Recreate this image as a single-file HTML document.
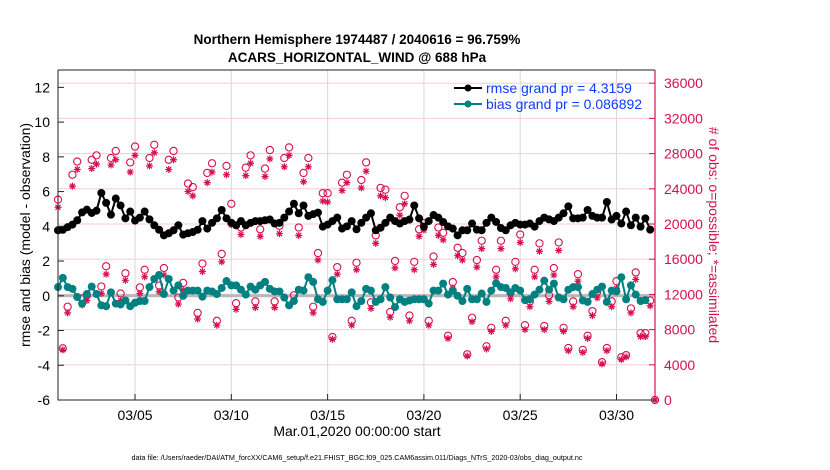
<!DOCTYPE html>
<html><head><meta charset="utf-8">
<style>
html,body{margin:0;padding:0;background:#fff;}
svg{display:block;font-family:"Liberation Sans",sans-serif;}
</style></head>
<body>
<svg id="chart" width="830" height="470" viewBox="0 0 830 470" xmlns="http://www.w3.org/2000/svg">
<text x="357" y="44" text-anchor="middle" font-size="13.5" font-weight="bold">Northern Hemisphere 1974487 / 2040616 = 96.759%</text>
<text x="357" y="62" text-anchor="middle" font-size="13.5" font-weight="bold">ACARS_HORIZONTAL_WIND @ 688 hPa</text>
<g id="grid"></g>
<g id="marks"></g>
<g id="axes"></g>
<text transform="translate(30,235) rotate(-90)" text-anchor="middle" font-size="14">rmse and bias (model - observation)</text>
<text transform="translate(709,235) rotate(90)" text-anchor="middle" font-size="14" fill="#d6104f">#  of obs: o=possible; *=assimilated</text>
<text x="357" y="436" text-anchor="middle" font-size="14">Mar.01,2020 00:00:00 start</text>
<text x="357" y="460" text-anchor="middle" font-size="7.2">data file: /Users/raeder/DAI/ATM_forcXX/CAM6_setup/f.e21.FHIST_BGC.f09_025.CAM6assim.011/Diags_NTrS_2020-03/obs_diag_output.nc</text>
<g>
  <g>
    <line x1="454" y1="88" x2="482" y2="88" stroke="#000" stroke-width="2"/>
    <circle cx="468" cy="88" r="3.5" fill="#000"/>
    <text x="486" y="93" font-size="14" fill="#0a3cff">rmse grand pr = 4.3159</text>
  </g>
  <g>
    <line x1="454" y1="104" x2="482" y2="104" stroke="#008080" stroke-width="2"/>
    <circle cx="468" cy="104" r="3.5" fill="#008080"/>
    <text x="486" y="109" font-size="14" fill="#0a3cff">bias grand pr = 0.086892</text>
  </g>
</g>
</svg>
<script>
const xTickLabels = ["03/05","03/10","03/15","03/20","03/25","03/30"];
const xTickDays = [4,9,14,19,24,29];
const yLeftTicks = [-6,-4,-2,0,2,4,6,8,10,12];
const yRightTicks = [0,4000,8000,12000,16000,20000,24000,28000,32000,36000];
const rmse = [3.77,3.8,3.95,4.1,4.35,4.8,4.96,4.77,4.9,5.92,5.35,4.67,5.6,5.2,4.46,4.85,4.33,4.5,4.85,4.4,4.06,3.8,3.48,3.6,3.77,4.06,3.52,3.6,3.67,3.8,4.3,3.87,4.2,4.46,4.94,4.46,4.2,4.06,4.3,4.06,4.2,4.3,4.3,4.35,4.39,4.16,4.2,4.5,4.85,5.3,4.75,5.2,4.6,4.7,4.79,3.98,4.1,4.3,4.5,3.87,4.0,4.3,3.83,4.2,4.5,4.75,3.77,3.92,4.2,4.5,4.3,4.16,4.3,4.39,5.2,4.46,3.98,4.3,4.65,4.5,4.25,4.0,3.87,3.48,3.77,3.77,4.16,3.81,3.77,4.2,4.5,4.25,3.9,3.77,4.06,4.2,4.1,4.1,4.16,3.98,4.3,4.5,4.4,4.3,4.5,4.75,5.15,4.46,4.46,4.5,4.94,4.6,4.5,4.5,5.4,4.39,4.6,4.16,4.85,4.06,4.5,3.98,4.46,3.81];
const bias = [0.5,1.03,0.5,0.4,-0.07,-0.45,0.1,0.53,0.1,-0.55,-0.6,0.2,-0.45,-0.5,-0.27,-0.6,-0.4,-0.3,-0.3,0.5,0.97,1.2,0.1,0.97,0.3,0.6,0.0,0.3,0.3,0.3,-0.05,0.3,0.25,0.1,0.45,0.85,0.6,0.6,0.35,0.07,0.53,0.35,0.6,0.8,0.4,0.25,0.25,-0.1,-0.55,-0.3,0.35,0.3,1.07,0.8,-0.2,-0.35,0.3,0.9,-0.2,-0.2,-0.2,0.2,-0.6,-0.3,0.4,0.3,-0.35,-0.2,0.5,-0.1,-0.65,-0.2,-0.35,-0.27,-0.2,-0.2,-0.2,-0.45,0.3,0.3,0.7,0.07,0.3,0.0,-0.3,0.4,-0.2,-0.2,0.13,-0.35,0.3,0.72,0.5,0.45,0.2,0.45,0.3,-0.25,-0.2,0.07,0.35,0.87,0.35,0.7,-0.1,-0.2,0.35,0.5,0.5,-0.27,-0.35,0.1,0.35,0.53,-0.35,0.3,0.25,1.07,-0.2,0.6,0.07,-0.3,-0.25];
const obsPossible = [22770,5880,10600,25600,27100,11540,11900,27300,27800,12900,15200,27500,28300,12100,14400,27000,28800,12800,14800,27500,29000,13000,15000,27300,28300,11650,13300,24600,24200,9900,15500,25800,26900,9000,16600,26600,22300,11000,19600,26400,27800,11200,19400,26300,28400,11200,19800,27500,28700,11900,19600,25800,27500,10600,16700,23500,23500,7150,15100,24700,25600,9000,15600,25000,27000,11100,18700,24100,23900,10000,15800,21900,23200,9600,15700,19400,20100,9000,16300,19600,19000,7300,13400,17300,16700,5200,9350,15900,18100,6100,8200,14800,18100,9000,12200,15700,18800,8500,11200,14800,17800,8400,11900,15000,17900,8200,5900,11200,14300,5700,7300,10100,12300,4300,5900,11200,13500,4850,5100,10400,14500,7600,7600,11300,0];
const obsAssim = [21900,5700,9900,24300,26200,10800,11300,26300,26800,12100,14300,26700,27300,11300,13600,25900,27800,12100,14000,26600,28100,12300,14200,26200,27300,10900,12500,23700,23200,9200,14600,24700,25900,8500,15700,25600,19900,10300,18800,25500,26900,10500,18600,25400,27400,10500,18900,26500,27800,11200,18700,24800,26500,9900,15900,22600,22500,6900,14300,23800,24700,8500,14800,24100,26000,10400,17800,23200,23000,9400,15000,21000,22300,9000,14800,18600,19300,8500,15400,18700,18200,7000,12700,16400,15900,5000,8900,15100,17200,5800,7800,14000,17200,8500,11500,14900,17900,8000,10600,14000,16900,8000,11200,14200,17000,7800,5600,10600,13500,5400,7000,9600,11600,4100,5600,10600,12700,4600,4900,9900,13700,7200,7200,10700,0];

const L=58,R=655,T=70,B=400;
const xMin=0,xMax=31,yMin=-6,yMax=13,cMax=37500;
const xs=d=>L+(d-xMin)/(xMax-xMin)*(R-L);
const ys=v=>B-(v-yMin)/(yMax-yMin)*(B-T);
const yc=c=>B-c/cMax*(B-T);
const NS="http://www.w3.org/2000/svg";
function mk(tag,attrs,parent){const e=document.createElementNS(NS,tag);for(const k in attrs)e.setAttribute(k,attrs[k]);parent.appendChild(e);return e;}
const grid=document.getElementById('grid'),marks=document.getElementById('marks'),axes=document.getElementById('axes');

xTickDays.forEach((d,i)=>{
  const l=mk('line',{x1:xs(d),x2:xs(d),y1:T,y2:B,stroke:'#d8d8d8','stroke-width':1},grid);
  
  
  const t=mk('line',{x1:xs(d),x2:xs(d),y1:B,y2:B-6,stroke:'#222','stroke-width':1},axes);
  
  
  const tx=mk('text',{x:xs(d),y:B+20,'text-anchor':'middle','font-size':14},axes);
  tx.textContent=xTickLabels[i];
  
  
});
yRightTicks.forEach(c=>{
  if(c>0){const g=mk('line',{x1:L,x2:R,y1:yc(c),y2:yc(c),stroke:'#f5cbd8','stroke-width':1},grid);
  
  }
  const t=mk('line',{x1:R,x2:R-6,y1:yc(c),y2:yc(c),stroke:'#d6104f','stroke-width':1},axes);
  
  
  const tx=mk('text',{x:R+9,y:yc(c)+5,'font-size':14,fill:'#d6104f'},axes);
  tx.textContent=c;
  
  
});
yLeftTicks.forEach(v=>{
  const t=mk('line',{x1:L,x2:L+6,y1:ys(v),y2:ys(v),stroke:'#222','stroke-width':1},axes);
  
  
  const tx=mk('text',{x:L-8,y:ys(v)+5,'text-anchor':'end','font-size':14},axes);
  tx.textContent=v;
  
  
});
const zl=mk('line',{x1:L,x2:R,y1:ys(0),y2:ys(0),stroke:'#b8b8b8','stroke-width':3},grid);



const ax1=mk('path',{d:`M${L},${T}H${R}M${L},${T}V${B}H${R}`,fill:'none',stroke:'#222','stroke-width':1},axes);


const ax2=mk('line',{x1:R,x2:R,y1:T,y2:B,stroke:'#d6104f','stroke-width':1.2},axes);



obsPossible.forEach((c,i)=>{
  const x=xs(i*0.25);
  const o=mk('circle',{cx:x,cy:yc(c),r:3.6,fill:'none',stroke:'#d6104f','stroke-width':1.1},marks);
  
  
});
obsAssim.forEach((c,i)=>{
  const x=xs(i*0.25),y=yc(c),s=3.5;
  const st=mk('path',{d:`M${x-s},${y}H${x+s}M${x},${y-s}V${y+s}M${x-2.5},${y-2.5}L${x+2.5},${y+2.5}M${x-2.5},${y+2.5}L${x+2.5},${y-2.5}`,stroke:'#d6104f','stroke-width':1.2,fill:'none'},marks);
  
  
});
function series(arr,color,name){
  const p=mk('polyline',{points:arr.map((v,i)=>xs(i*0.25)+','+ys(v)).join(' '),fill:'none',stroke:color,'stroke-width':2},marks);
  
  
  arr.forEach((v,i)=>{
    const c=mk('circle',{cx:xs(i*0.25),cy:ys(v),r:4,fill:color},marks);
    
    
  });
}
series(bias,'#008080','bias');
series(rmse,'#000','rmse');
</script>
</body></html>
